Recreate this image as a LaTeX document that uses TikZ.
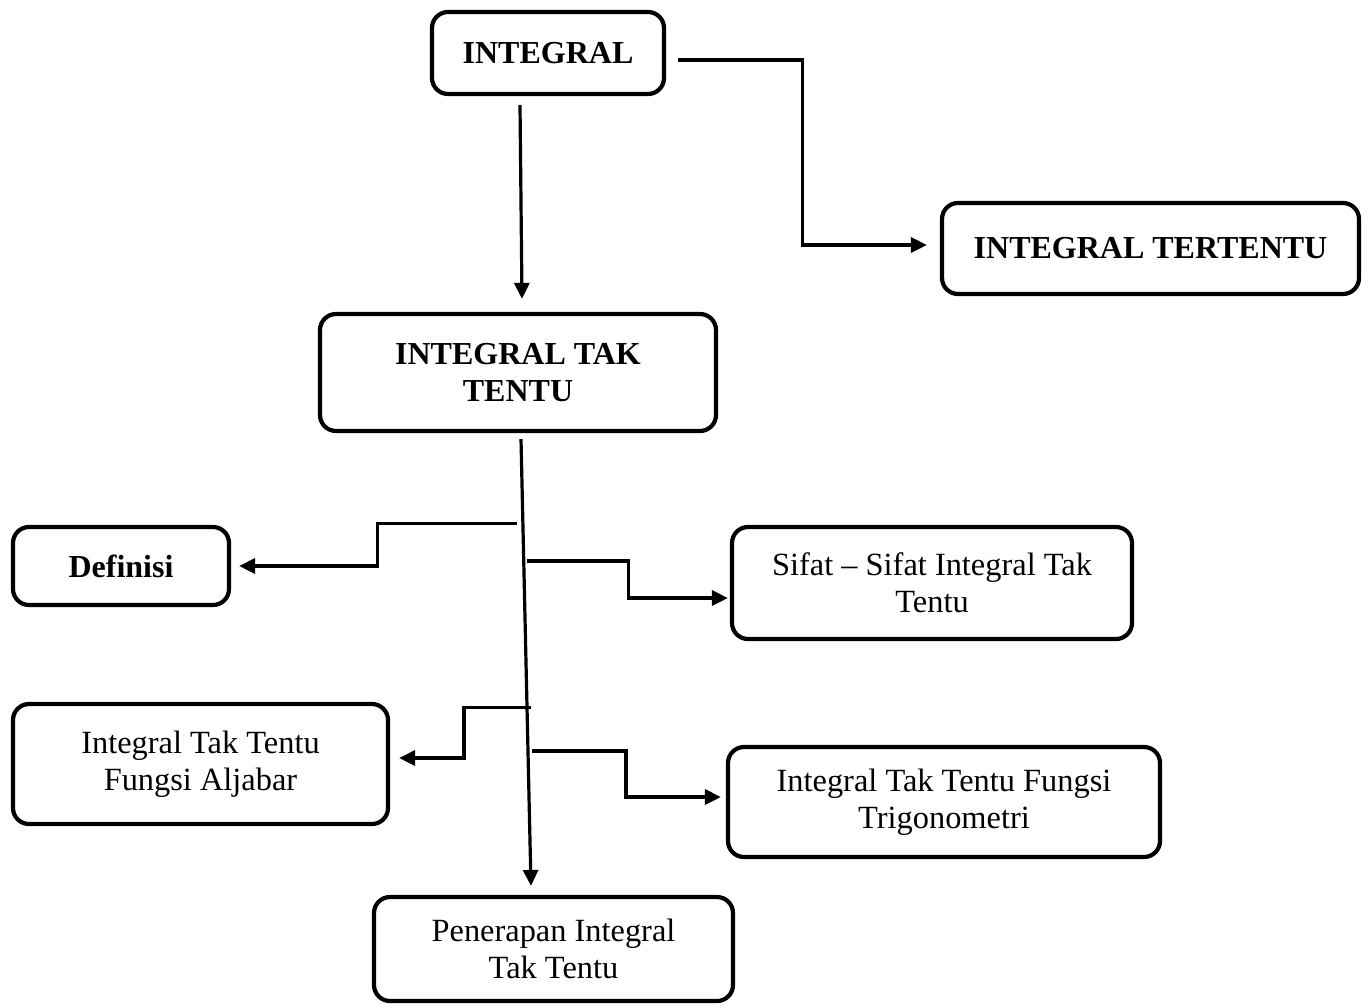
\documentclass[tikz,border=0pt]{standalone}
\usepackage{fontspec}
\setmainfont{Liberation Serif}
\usetikzlibrary{arrows.meta,calc}
\begin{document}
\begin{tikzpicture}[x=0.5pt,y=-0.5pt,
 box/.style={draw,line width=2.1pt,rounded corners=8pt,align=center,inner sep=0pt,font=\fontsize{16.2}{18.5}\selectfont},
 bbox/.style={box,font=\fontsize{16}{18.5}\selectfont\bfseries},
 conn/.style={line width=1.6pt,-{Triangle[length=8pt,width=7.5pt]}}]
\useasboundingbox (0,0) rectangle (1369,1007);
\node[bbox,minimum width=116pt,minimum height=41pt] (int) at (548,53) {INTEGRAL};
\node[bbox,minimum width=208.5pt,minimum height=45.5pt] (tert) at (1150.5,248.5) {INTEGRAL TERTENTU};
\node[bbox,minimum width=198pt,minimum height=58.5pt] (tak) at (518,372.5) {INTEGRAL TAK\\TENTU};
\node[bbox,minimum width=108pt,minimum height=39pt] (def) at (121,566) {Definisi};
\node[box,minimum width=200pt,minimum height=56pt] (sifat) at (932,583) {Sifat -- Sifat Integral Tak\\Tentu};
\node[box,minimum width=187.5pt,minimum height=60pt] (alj) at (200.5,764) {Integral Tak Tentu\\Fungsi Aljabar};
\node[box,minimum width=216pt,minimum height=55pt] (trig) at (944,802) {Integral Tak Tentu Fungsi\\Trigonometri};
\node[box,minimum width=179.5pt,minimum height=52pt] (pen) at (553.5,949) {Penerapan Integral\\Tak Tentu};
% main connectors
\draw[conn] ($(int.south)+(-28,9)$) -- ($(tak.north)+(4,-13)$);
\draw[conn] ($(int.east)+(12,7)$) -- ++(124,0) |- ($(tert.west)+(-13,-3.5)$);
\coordinate (st1) at ($(tak.south)+(3,6)$);
\coordinate (st2) at ($(pen.north)+(-22.5,-9)$);
\draw[conn] (st1) -- (st2);
% branches
\coordinate (b1) at ($(st1)!0.189!(st2)+(-6,0)$);
\draw[conn] (b1) -- ++(-139,0) |- ($(def.east)+(8,0)$);
\coordinate (b2) at ($(st1)!0.273!(st2)+(3,0)$);
\draw[conn] (b2) -- ++(102,0) |- ($(sifat.west)+(-2,15)$);
\coordinate (b3) at ($(st1)!0.600!(st2)+(4,0)$);
\draw[conn] (b3) -- ++(-67,0) |- ($(alj.east)+(9,-6)$);
\coordinate (b4) at ($(st1)!0.698!(st2)+(4,0)$);
\draw[conn] (b4) -- ++(94,0) |- ($(trig.west)+(-5,-5)$);
\end{tikzpicture}
\end{document}
